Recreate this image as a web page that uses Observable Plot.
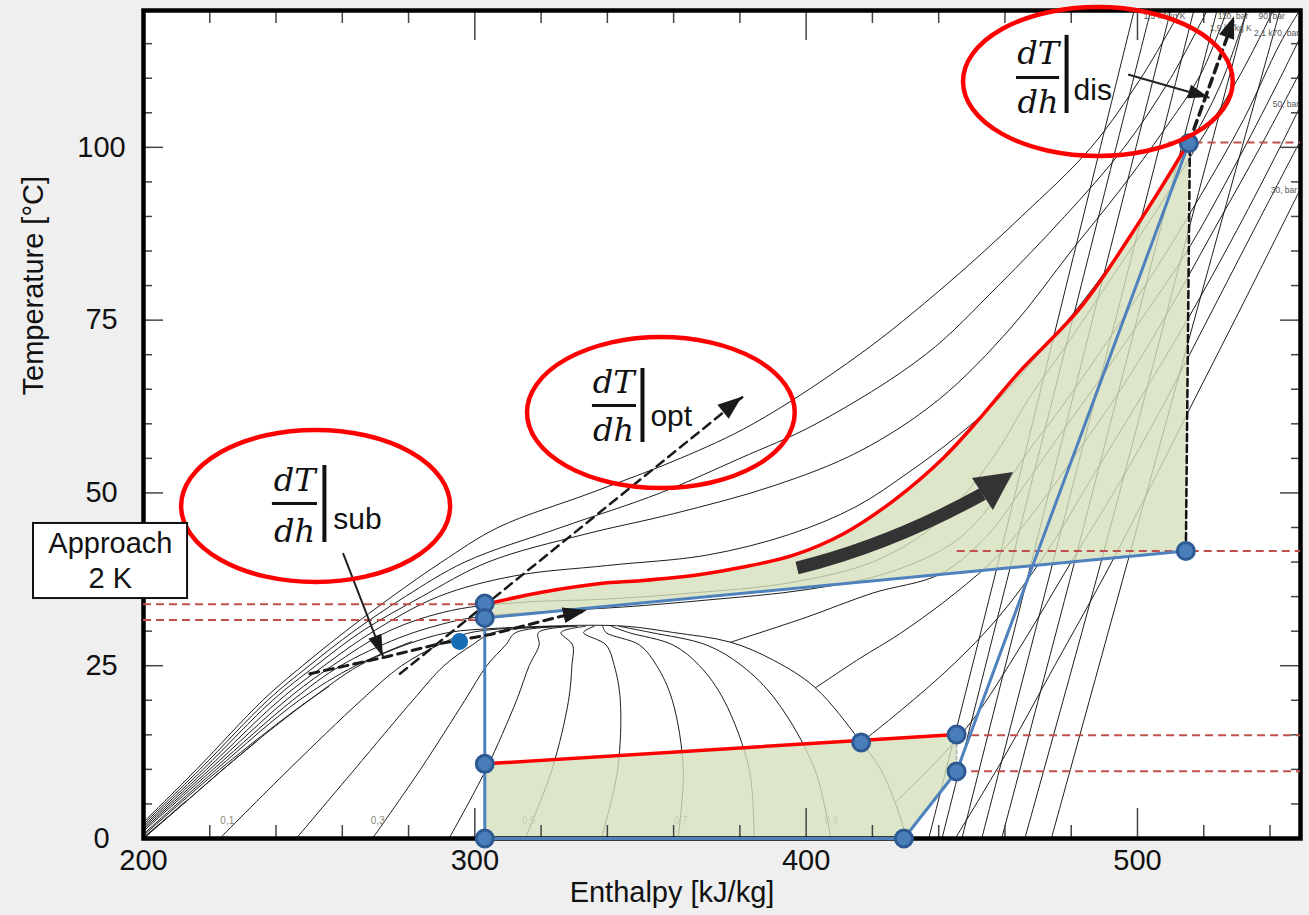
<!DOCTYPE html>
<html><head><meta charset="utf-8">
<script src="https://cdn.jsdelivr.net/npm/d3@7"></script>
<script src="https://cdn.jsdelivr.net/npm/@observablehq/plot@0.6"></script>
<style>
html,body{margin:0;padding:0;background:#efefef;}
#chart svg{display:block;}
</style></head>
<body><div id="chart"></div>
<script>
// ---------- axes ----------
const xTickLabels = [200, 300, 400, 500];
const xMajorTicks = [300, 400, 500];
const xMinorTicks = [220,240,260,280,320,340,360,380,420,440,460,480,520,540];
const yTickLabels = [0, 25, 50, 75, 100];
const yMajorTicks = [25, 50, 75, 100];
const yMinorTicks = [5,10,15,20,30,35,40,45,55,60,65,70,80,85,90,95,105,110,115];

// ---------- CO2 property lines [h kJ/kg, T °C] ----------
const satLiquid = [[200,0],[212,5],[224,10],[236.5,15],[250,20],[265,25],[279,28],[292,29.8],[306,30.4],[320.7,30.7]];
const satVapor = [[320.7,30.7],[333,30.85],[346,30.7],[360,29.8],[377.2,28.4],[390.1,25.8],[402.8,21.8],[416.6,13.9],[422.5,10],[427,5],[430.4,0]];

const qualityT = [0, 10, 20, 25, 28, 29.8, 30.7];
const quality01 = [223.0, 243.9, 265.7, 277.9, 289.1, 298.8, 323.2];
const quality02 = [246.1, 263.7, 281.3, 290.7, 299.2, 305.6, 325.8];
const quality03 = [269.1, 283.6, 297.0, 303.6, 309.3, 312.4, 328.4];
const quality04 = [292.2, 303.4, 312.6, 316.4, 319.4, 319.2, 331.0];
const quality05 = [315.2, 323.3, 328.3, 329.3, 329.5, 326.0, 333.4];
const quality06 = [338.2, 343.1, 343.9, 342.1, 339.6, 332.8, 336.0];
const quality07 = [361.3, 362.9, 359.6, 354.9, 349.7, 339.6, 338.6];
const quality08 = [384.3, 382.8, 375.2, 367.8, 359.8, 346.4, 341.2];
const quality09 = [407.4, 402.6, 390.9, 380.6, 369.9, 353.2, 343.6];
const qualityLabels = [
  {h:225.3, T:2.5, text:"0,1"}, {h:270.7, T:2.5, text:"0,3"}, {h:316.3, T:2.5, text:"0,5"},
  {h:362.1, T:2.5, text:"0,7"}, {h:407.6, T:2.5, text:"0,9"}];

const isobar130 = [[195,0],[216,10],[236,20],[248,25],[261,30],[275,35],[290,40],[307,45],[335,50],[362,55],[384,60],[416,70],[442,80],[465,90],[486,100],[501,110],[513,119.8]];
const isobar120 = [[195.5,0],[217,10],[237.5,20],[250,25],[263.5,30],[279,35],[297,40],[326,45],[356,50],[380,55],[403,60],[436,70],[458,80],[478,90],[496,100],[510,110],[521,119.8]];
const isobar110 = [[196,0],[218,10],[239,20],[252,25],[266,30],[284,35],[304,40],[333,44],[360,47],[390,51],[416,56],[440,63.5],[462,74],[480,85],[495,94],[508,102.5],[519,110.5],[527,119.8]];
const isobar100 = [[196.5,0],[219,10],[241,20],[254.5,25],[269.5,30],[289,35],[312,38],[340,39.5],[370,41],[395,44],[415,48],[431,53],[445,58],[457,63],[470,70],[484,78],[499,88],[514,99],[525,109],[533,119.8]];
const isobar90 = [[197,0],[220,10],[243,20],[257,25],[274,30],[293,33],[315,34.2],[338,34.6],[365,35.5],[395,37],[420,40],[438,45],[450,51],[459,57],[467,63.5],[478,71],[492,81],[506,91],[519,101],[531,110.5],[541,119.8]];
const isobar80 = [[197.5,0],[221,10],[245,20],[259.5,25],[277,29],[290,31],[300,32],[320,32.8],[345,33.5],[370,34.5],[400,36],[425,38.5],[445,43],[457,49],[467,56],[478,63],[491,72],[505,82],[519,93],[532,104],[543,115],[549.2,120]];
const isobar70Liquid = [[198.5,0],[222,10],[247,20],[264,25],[281,28.5]];
const isobar70Vapor = [[377.2,28.4],[400,32],[420,35.5],[440.6,38.3],[455,44],[465,50.5],[476,58],[488,66],[501,75],[515,85],[529,97],[542,109],[549.2,116]];
const isobar60Liquid = [[199,0],[223,10],[247,19],[256,22]];
const isobar60Vapor = [[402.8,21.8],[416,26],[428.5,29.7],[445,35.5],[458,41],[470,48],[482,56],[495,65],[509,76],[523,88],[537,100],[549.2,111]];
const isobar50Liquid = [[199.6,0],[212,5],[224,10],[234,14]];
const isobar50Vapor = [[416.6,13.9],[428.5,18.5],[444,25],[458,32],[472,41],[486,52],[500,63],[515,75],[530,88],[543,100],[549.2,106]];
const isobar40Liquid = [[200,0],[212.5,5.3]];
const isobar40Vapor = [[427,5.3],[437,10],[450,17],[465,28],[480,40],[494,51],[507,62],[520,74],[534,87],[549.2,101]];
const isobar30 = [[445,0],[460,12],[475,25],[490,38],[503,50],[516,62.4],[532,77.5],[549.2,94]];

const isentrope1 = [[437,0],[458,40],[478.5,80],[499,119.8]];
const isentrope2 = [[441,0],[462,40],[483,80],[504,119.8]];
const isentrope3 = [[447,0],[468,40],[489,80],[510,119.8]];
const isentrope4 = [[453,0],[474.5,40],[496,80],[517,119.8]];
const isentrope5 = [[459,0],[481,40],[502.5,80],[524,119.8]];
const isentrope6 = [[466,0],[489,40],[511,80],[533,119.8]];
const isentrope7 = [[474,0],[497,40],[520,80],[543,119.8]];

const lineLabels = [
  {h:501.8, T:118.9, text:"1,5 kJ/kg K"}, {h:524.2, T:118.9, text:"110, bar"},
  {h:521.8, T:117.3, text:"1,9 kJ/kg K"}, {h:536.5, T:118.9, text:"90, bar"},
  {h:535.2, T:116.5, text:"2,1 k70, bar"},
  {h:540.8, T:106.2, text:"50, bar"}, {h:540.2, T:93.8, text:"30, bar"}];

// ---------- cycle ----------
const gasCoolerRed = [[303.2,33.9],[319.8,35.6],[337.9,36.9],[350,37.3],[368.1,38.2],[380.2,39.2],[396.2,41],[411.3,44.1],[426.4,48.9],[441.5,55.1],[452.6,60.9],[464.7,67.7],[482.8,76.8],[501.5,89.9],[515.3,100.6]];
const evaporatorRed = [[303,10.8],[445.4,15.05]];
const heatSinkBlue = [[303,31.9],[514.6,41.6]];
const expansionBlue = [[303,0],[303,34.0]];
const bottomBlue = [[303,0],[429.5,0]];
const compressionBlue = [[429.5,0],[445.4,9.7],[515.5,100.6]];
const superheatGap = [[445.4,9.7],[445.4,15.05]];
const lowerGreen = [[303,0],[303,10.8],[445.4,15.05],[445.4,9.7],[429.5,0]];
const statePoints = [[303,34.0],[303,31.9],[303,10.8],[303,0],[429.5,0],[416.6,13.9],[445.4,15.05],[445.4,9.7],[514.6,41.6],[515.5,100.6]];
const approachPoint = [[295.4,28.5]];

const levelsLeft = [{T:33.9, h1:200, h2:302.6}, {T:31.6, h1:200, h2:302.6}];
const levelsRight = [{T:100.7, h1:509.5, h2:549.2}, {T:41.6, h1:445.6, h2:549.2}, {T:14.95, h1:446, h2:549.2}, {T:9.72, h1:446, h2:549.2}];

// ---------- annotations ----------
const dischargeDrop = [[514.6,41.6],[515.8,100.2]];
const subDashPath = [[250.2,23.83],[272.4,26.19],[289.6,28.21],[304.7,29.52],[324.6,31.98],[334.0,32.99]];
const optDashPath = [[277.4,23.83],[380.7,63.85]];
const disDashPath = [[515.5,100.6],[529.3,118.9]];
const subPointer = [[260.3,41.19],[272.4,26.23]];
const disPointer = [[497.4,110.5],[521.5,107.2]];
const arrowHeads = [
  {from:[324.6,31.98], tip:[334.0,32.99], len:24, half:8},
  {from:[277.4,23.83], tip:[380.7,63.85], len:24, half:9},
  {from:[515.5,100.6], tip:[529.3,118.9], len:22, half:8},
  {from:[260.3,41.19], tip:[272.4,26.23], len:22, half:7},
  {from:[497.4,110.5], tip:[521.5,107.2], len:20, half:7}];
const bigArrow = {start:[397.4,39.07], ctrl:[425.5,42.39], end:[453.4,49.77], tip:[462.6,52.96], left:[450.2,52.09], right:[456.5,47.46]};

const ellipses = [
  {h:252.1, T:48.04, rh:40.6, rT:11.0},
  {h:356.3, T:61.56, rh:40.4, rT:10.92},
  {h:488.2, T:109.46, rh:40.7, rT:10.78}];
const fracNumerators = [{h:245.6, T:51.83}, {h:341.9, T:66.0}, {h:470.0, T:113.6}];
const fracDenominators = [{h:245.6, T:44.45}, {h:341.9, T:59.06}, {h:470.0, T:106.52}];
const fracBars = [{T:48.47, h1:238.9, h2:252.5}, {T:62.65, h1:335.5, h2:348.8}, {T:110.1, h1:463.5, h2:476.5}];
const evalBars = [{h:254.6, T1:42.83, T2:53.97}, {h:350.6, T1:57.3, T2:68.0}, {h:478.6, T1:104.9, T2:116.2}];
const subscripts = [{h:257.3, T:46.1, text:"sub"}, {h:353.0, T:61.14, text:"opt"}, {h:480.7, T:108.17, text:"dis"}];

const approachBox = [{h1:166.8, h2:213.3, T1:34.72, T2:45.58}];
const approachText = [{h:190.0, T:42.58, text:"Approach"}, {h:190.0, T:37.52, text:"2 K"}];

// ---------- helpers ----------
const P = d => d[0], Tt = d => d[1];
const thin = (data, curve = "catmull-rom") =>
  Plot.line(data, {x: P, y: Tt, stroke: "#1c1c1c", strokeWidth: 1, curve, clip: true});
const qualityLine = hs => thin(hs.map((h, i) => [h, qualityT[i]]));

function ellipseMark(index, scales) {
  const g = d3.create("svg:g");
  for (const e of ellipses) {
    const cx = scales.x(e.h), cy = scales.y(e.T);
    const rx = Math.abs(scales.x(e.h + e.rh) - cx), ry = Math.abs(scales.y(e.T + e.rT) - cy);
    g.append("ellipse").attr("cx", cx).attr("cy", cy).attr("rx", rx).attr("ry", ry)
      .attr("fill", "none").attr("stroke", "#ff0000").attr("stroke-width", 4.5);
  }
  return g.node();
}
function headsMark(index, scales) {
  const g = d3.create("svg:g");
  for (const a of arrowHeads) {
    const x0 = scales.x(a.from[0]), y0 = scales.y(a.from[1]);
    const x1 = scales.x(a.tip[0]), y1 = scales.y(a.tip[1]);
    const L = Math.hypot(x1 - x0, y1 - y0), ux = (x1 - x0) / L, uy = (y1 - y0) / L;
    const bx = x1 - ux * a.len, by = y1 - uy * a.len;
    const pts = [[x1, y1], [bx - uy * a.half, by + ux * a.half], [bx + uy * a.half, by - ux * a.half]];
    g.append("polygon").attr("points", pts.map(p => p.join(",")).join(" ")).attr("fill", "#1a1a1a");
  }
  return g.node();
}
function bigArrowMark(index, scales) {
  const g = d3.create("svg:g");
  const s = k => [scales.x(bigArrow[k][0]), scales.y(bigArrow[k][1])];
  const [a, c, e, t, l, r] = ["start", "ctrl", "end", "tip", "left", "right"].map(s);
  g.append("path").attr("d", `M${a}Q${c} ${e}`).attr("fill", "none").attr("stroke", "#333").attr("stroke-width", 13);
  g.append("polygon").attr("points", [t, l, r].map(p => p.join(",")).join(" ")).attr("fill", "#333");
  return g.node();
}

const upperGreen = gasCoolerRed.concat([[514.6,41.6],[303,31.9]]);
const frameH = 828, frameW = 1157;

const chart = Plot.plot({
  width: 1309, height: 915,
  marginLeft: 143, marginRight: 9, marginTop: 10, marginBottom: 77,
  x: {domain: [200, 549.2], axis: null},
  y: {domain: [0, 119.8], axis: null},
  style: {background: "#efefef", fontFamily: "'Liberation Sans', Arial, sans-serif", color: "#111", overflow: "visible"},
  marks: [
    Plot.frame({fill: "white", stroke: "none"}),
    // property lines
    thin(satLiquid), thin(satVapor),
    ...[quality01, quality02, quality03, quality04, quality05, quality06, quality07, quality08, quality09].map(qualityLine),
    ...[isobar130, isobar120, isobar110, isobar100, isobar90, isobar80, isobar70Liquid, isobar70Vapor,
        isobar60Liquid, isobar60Vapor, isobar50Liquid, isobar50Vapor, isobar40Liquid, isobar40Vapor, isobar30].map(d => thin(d)),
    ...[isentrope1, isentrope2, isentrope3, isentrope4, isentrope5, isentrope6, isentrope7].map(d => thin(d)),
    Plot.text(qualityLabels, {x: "h", y: "T", text: "text", fontSize: 10, fill: "#8a8a78"}),
    Plot.text(lineLabels, {x: "h", y: "T", text: "text", fontSize: 8.5, fill: "#555", textAnchor: "start"}),
    // green areas
    Plot.line(upperGreen, {x: P, y: Tt, fill: "#d6e0bd", fillOpacity: 0.8, stroke: "none", curve: "linear"}),
    Plot.line(lowerGreen, {x: P, y: Tt, fill: "#d6e0bd", fillOpacity: 0.8, stroke: "none", curve: "linear"}),
    // ticks
    Plot.tickX(xMinorTicks, {x: d => d, insetTop: frameH - 13, stroke: "#444", strokeWidth: 1.5}),
    Plot.tickX(xMajorTicks, {x: d => d, insetTop: frameH - 30, stroke: "#444", strokeWidth: 1.5}),
    Plot.tickX(xMinorTicks, {x: d => d, insetBottom: frameH - 13, stroke: "#444", strokeWidth: 1.5}),
    Plot.tickX(xMajorTicks, {x: d => d, insetBottom: frameH - 30, stroke: "#444", strokeWidth: 1.5}),
    Plot.tickY(yMinorTicks, {y: d => d, insetRight: frameW - 9, stroke: "#444", strokeWidth: 1.5}),
    Plot.tickY(yMajorTicks, {y: d => d, insetRight: frameW - 20, stroke: "#444", strokeWidth: 1.5}),
    Plot.tickY(yMinorTicks, {y: d => d, insetLeft: frameW - 9, stroke: "#444", strokeWidth: 1.5}),
    Plot.tickY(yMajorTicks, {y: d => d, insetLeft: frameW - 20, stroke: "#444", strokeWidth: 1.5}),
    Plot.frame({stroke: "black", strokeWidth: 4.5}),
    // tick labels & titles
    Plot.text(xTickLabels, {x: d => d, text: d => String(d), frameAnchor: "bottom", lineAnchor: "top", dy: 11, fontSize: 29}),
    Plot.text(yTickLabels, {y: d => d, text: d => String(d), frameAnchor: "left", textAnchor: "middle", dx: -42, fontSize: 29}),
    Plot.text(["Enthalpy [kJ/kg]"], {text: d => d, frameAnchor: "bottom", lineAnchor: "top", dy: 43, dx: -50, fontSize: 29}),
    Plot.text(["Temperature [°C]"], {text: d => d, frameAnchor: "left", rotate: -90, lineAnchor: "top", dx: -121, dy: -29, fontSize: 29}),
    // level lines
    Plot.ruleY(levelsLeft, {y: "T", x1: "h1", x2: "h2", stroke: "#c0504d", strokeWidth: 2, strokeDasharray: "8,5"}),
    Plot.ruleY(levelsRight, {y: "T", x1: "h1", x2: "h2", stroke: "#c0504d", strokeWidth: 2, strokeDasharray: "8,5"}),
    // cycle
    Plot.line(dischargeDrop, {x: P, y: Tt, stroke: "#111", strokeWidth: 2.5, strokeDasharray: "7,4"}),
    Plot.line(superheatGap, {x: P, y: Tt, stroke: "#bbb", strokeWidth: 2, strokeDasharray: "3,3"}),
    Plot.line(bottomBlue, {x: P, y: Tt, stroke: "#4f81bd", strokeWidth: 3}),
    Plot.line(expansionBlue, {x: P, y: Tt, stroke: "#4f81bd", strokeWidth: 3}),
    Plot.line(heatSinkBlue, {x: P, y: Tt, stroke: "#4f81bd", strokeWidth: 3}),
    Plot.line(compressionBlue, {x: P, y: Tt, stroke: "#4f81bd", strokeWidth: 3}),
    Plot.line(gasCoolerRed, {x: P, y: Tt, stroke: "#ff0000", strokeWidth: 3.5, curve: "catmull-rom"}),
    Plot.line(evaporatorRed, {x: P, y: Tt, stroke: "#ff0000", strokeWidth: 3.5}),
    // dashed slope arrows
    Plot.line(subDashPath, {x: P, y: Tt, stroke: "#1a1a1a", strokeWidth: 3, strokeDasharray: "9,6"}),
    Plot.line(optDashPath, {x: P, y: Tt, stroke: "#1a1a1a", strokeWidth: 2.5, strokeDasharray: "9,6"}),
    Plot.line(disDashPath, {x: P, y: Tt, stroke: "#1a1a1a", strokeWidth: 3.5, strokeDasharray: "9,6"}),
    Plot.line(subPointer, {x: P, y: Tt, stroke: "#222", strokeWidth: 2}),
    Plot.line(disPointer, {x: P, y: Tt, stroke: "#222", strokeWidth: 2}),
    headsMark,
    // points
    Plot.dot(statePoints, {x: P, y: Tt, r: 8.5, fill: "#4a7ebb", stroke: "#2d5a92", strokeWidth: 3}),
    Plot.dot(approachPoint, {x: P, y: Tt, r: 8.5, fill: "#166db5"}),
    bigArrowMark,
    // ellipses & math labels
    ellipseMark,
    Plot.text(fracNumerators, {x: "h", y: "T", text: () => "dT", fontFamily: "'DejaVu Serif', serif", fontStyle: "italic", fontSize: 32, fill: "#111"}),
    Plot.text(fracDenominators, {x: "h", y: "T", text: () => "dh", fontFamily: "'DejaVu Serif', serif", fontStyle: "italic", fontSize: 32, fill: "#111"}),
    Plot.ruleY(fracBars, {y: "T", x1: "h1", x2: "h2", stroke: "#111", strokeWidth: 3}),
    Plot.ruleX(evalBars, {x: "h", y1: "T1", y2: "T2", stroke: "#111", strokeWidth: 4}),
    Plot.text(subscripts, {x: "h", y: "T", text: "text", textAnchor: "start", fontSize: 30, fill: "#111"}),
    // approach box
    Plot.rect(approachBox, {x1: "h1", x2: "h2", y1: "T1", y2: "T2", fill: "white", stroke: "#111", strokeWidth: 2}),
    Plot.text(approachText, {x: "h", y: "T", text: "text", fontSize: 29, fill: "#111"})
  ]
});
document.getElementById("chart").append(chart);
</script>
</body></html>
